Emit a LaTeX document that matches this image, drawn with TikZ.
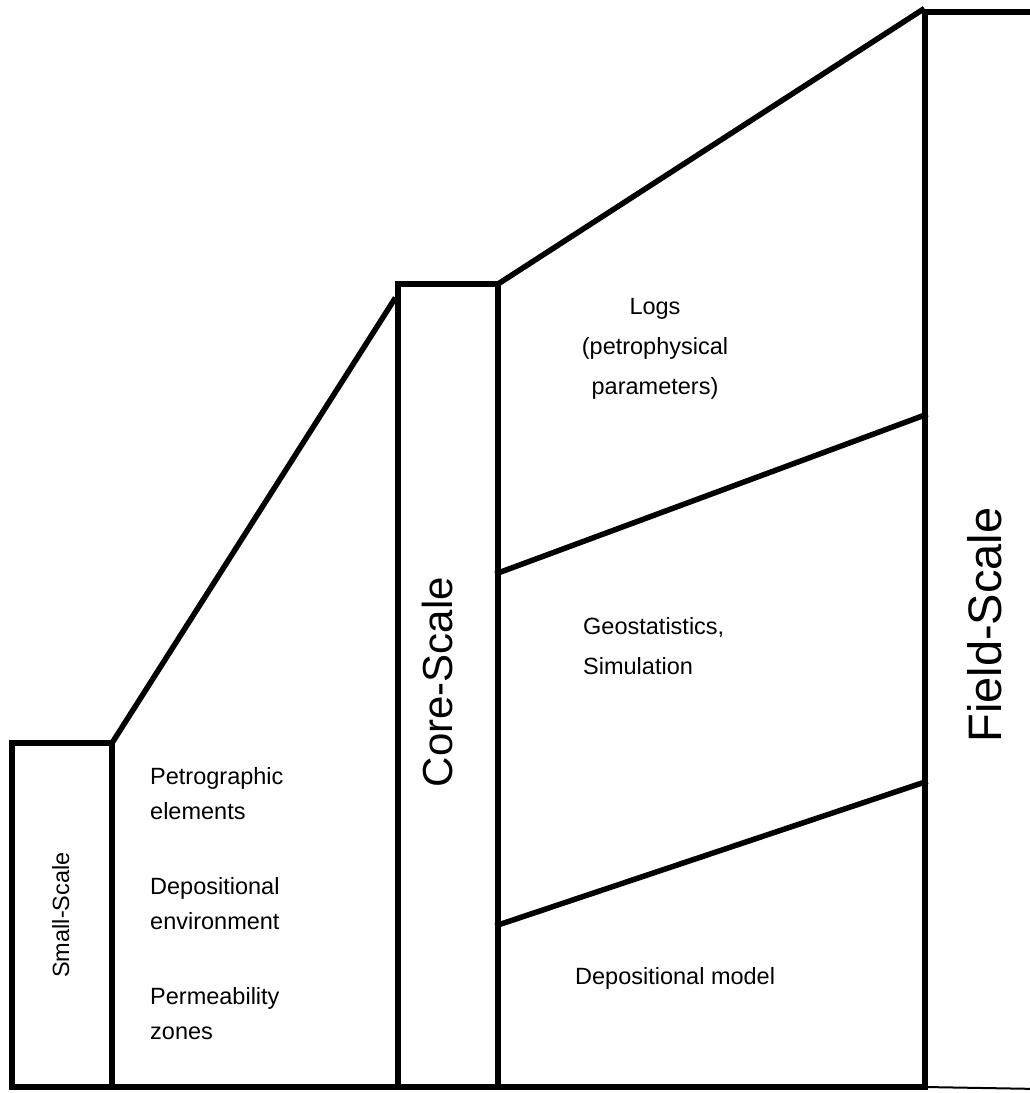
\documentclass[tikz,border=0pt]{standalone}
\usepackage{fontspec}
\setmainfont{Liberation Sans}
\begin{document}
\begin{tikzpicture}[x=1pt,y=-1pt,
  frame/.style={line width=5.5pt, line join=miter, line cap=rect},
  body/.style={font=\fontsize{23.5}{35}\selectfont, inner sep=0pt},
  scalelabel/.style={rotate=90, anchor=base, inner sep=0pt}]
\fill[white] (0,0) rectangle (1030,1093);
\useasboundingbox (0,0) rectangle (1030,1093);
\clip (0,0) rectangle (1030,1093);
% corners
\coordinate (sTL) at (12,743);
\coordinate (sTR) at (112,743);
\coordinate (sBL) at (12,1087);
\coordinate (sBR) at (112,1087);
\coordinate (cTL) at (398,284);
\coordinate (cTR) at (498,284);
\coordinate (cBL) at (398,1087);
\coordinate (cBR) at (498,1087);
\coordinate (cJoin) at (394,300);
\coordinate (fTL) at (925,12);
\coordinate (fTR) at (1040,12);
\coordinate (fBL) at (925,1087);
\coordinate (fBR) at (1040,1089);
\coordinate (fPeak) at (922,10);
\coordinate (d1L) at (498,573);
\coordinate (d1R) at (925,415);
\coordinate (d2L) at (498,925);
\coordinate (d2R) at (925,782);
% small-scale box
\draw[frame] (sTL) rectangle (sBR);
% core-scale box
\draw[frame] (cTL) rectangle (cBR);
% field-scale box
\draw[frame] (fTR) -- (fTL) -- (fBL);
\draw[line width=2pt] (fBL) -- (fBR);
% connecting outlines
\draw[frame] (sTR) -- (cJoin);
\draw[frame] (sBR) -- (cBL);
\draw[frame] (cTR) -- (fPeak);
\draw[frame] (cBR) -- (fBL);
% dividers
\draw[frame] (d1L) -- (d1R);
\draw[frame] (d2L) -- (d2R);
% scale labels
\node[scalelabel, font=\fontsize{23.5}{28}\selectfont] (small) at (69,915) {Small-Scale};
\node[scalelabel, font=\fontsize{42}{50}\selectfont] (core) at (452,682) {Core-Scale};
\node[scalelabel, font=\fontsize{47}{56}\selectfont] (field) at (1001,625) {Field-Scale};
% left texts
\node[body, anchor=base west] (petro) at (150,784) {Petrographic};
\node[body, anchor=base west] (petro2) at (150,819) {elements};
\node[body, anchor=base west] (depo) at (150,894) {Depositional};
\node[body, anchor=base west] (depo2) at (150,929) {environment};
\node[body, anchor=base west] (perm) at (150,1004) {Permeability};
\node[body, anchor=base west] (perm2) at (150,1039) {zones};
% right texts
\node[body, anchor=base] (logs) at (655,314) {Logs};
\node[body, anchor=base] (logs2) at (655,354) {(petrophysical};
\node[body, anchor=base] (logs3) at (655,394) {parameters)};
\node[body, anchor=base west] (geo) at (583,634) {Geostatistics,};
\node[body, anchor=base west] (geo2) at (583,674) {Simulation};
\node[body, anchor=base west] (depmod) at (575,984) {Depositional model};
\end{tikzpicture}
\end{document}
